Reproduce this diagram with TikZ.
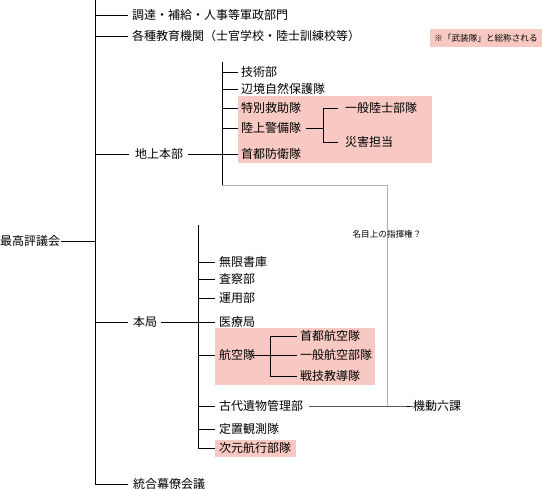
\documentclass[tikz,border=0pt]{standalone}
\usepackage{fontspec}
\setmainfont{Noto Sans CJK JP}
\definecolor{pinkbg}{RGB}{247,201,194}
\definecolor{grayln}{RGB}{175,175,175}
\begin{document}
\begin{tikzpicture}[x=1pt,y=-1pt,
  lbl/.style={anchor=west,inner sep=0pt,font=\fontsize{12}{12}\selectfont},
  small/.style={inner sep=0pt,font=\fontsize{8.6}{9}\selectfont},
  ln/.style={line width=0.9pt,black},
  gln/.style={line width=0.9pt,grayln}]
\useasboundingbox (0,0) rectangle (542,490);
% pink group backgrounds
\fill[pinkbg] (238,96) rectangle (432,163);
\fill[pinkbg] (215,328) rectangle (375,385);
\fill[pinkbg] (215,440) rectangle (296,457);
\node[small,fill=pinkbg,minimum width=112pt,minimum height=18pt] (note) at (486,38) {※「武装隊」と総称される};

% level 0 / 1
\node[lbl] (root) at (0,241) {最高評議会};
\node[lbl] (a1) at (132,15) {調達・補給・人事等軍政部門};
\node[lbl] (a2) at (132,36) {各種教育機関（士官学校・陸士訓練校等）};
\node[lbl] (chijo) at (135,154) {地上本部};
\node[lbl] (honkyoku) at (133,322) {本局};
\node[lbl] (togo) at (133,484) {統合幕僚会議};

% ground HQ nodes
\node[lbl] (gi) at (241,72) {技術部};
\node[lbl] (hen) at (241,89) {辺境自然保護隊};
\node[lbl] (toku) at (241,108) {特別救助隊};
\node[lbl] (riku) at (241,128) {陸上警備隊};
\node[lbl] (shuto) at (241,154) {首都防衛隊};
\node[lbl] (ippan) at (345,108) {一般陸士部隊};
\node[lbl] (saigai) at (345,142) {災害担当};

% main office nodes
\node[lbl] (mugen) at (219,262) {無限書庫};
\node[lbl] (sasatsu) at (219,279) {査察部};
\node[lbl] (unyo) at (219,298) {運用部};
\node[lbl] (iryo) at (219,322) {医療局};
\node[lbl] (koku) at (219,355) {航空隊};
\node[lbl] (kodai) at (219,406) {古代遺物管理部};
\node[lbl] (teichi) at (219,429) {定置観測隊};
\node[lbl] (jigen) at (219,448) {次元航行部隊};
\node[lbl] (shutoku) at (300,336) {首都航空隊};
\node[lbl] (ippanku) at (300,355) {一般航空部隊};
\node[lbl] (sengi) at (300,376) {戦技教導隊};
\node[lbl] (kido) at (413,406) {機動六課};

% nominal command (gray), drawn below the black lines
\coordinate (bus1t) at (222,62);
\coordinate (bus1b) at (222,185);
\coordinate (gcorner) at (387,185);
\draw[gln] (bus1b) -- (gcorner) -- (gcorner |- kido.west);
\node[small] (nominal) at (387,234) {名目上の指揮権？};

% level 0 bus
\coordinate (bus0) at (95,0);
\draw[ln] (bus0) -- (bus0 |- togo.west) -- ([xshift=-5pt]togo.west);
\draw[ln] ([xshift=1pt]root.east) -- (root.east -| bus0);
\draw[ln] (bus0 |- a1.west) -- ([xshift=-4pt]a1.west);
\draw[ln] (bus0 |- a2.west) -- ([xshift=-4pt]a2.west);
\draw[ln] (bus0 |- chijo.west) -- ([xshift=-6pt]chijo.west);
\draw[ln] (bus0 |- honkyoku.west) -- ([xshift=-5pt]honkyoku.west);

% ground HQ lines
\draw[ln] (bus1t) -- (bus1b);
\draw[ln] (bus1t |- gi.west) -- ([xshift=-3pt]gi.west);
\draw[ln] (bus1t |- hen.west) -- ([xshift=-3pt]hen.west);
\draw[ln] (bus1t |- toku.west) -- ([xshift=-3pt]toku.west);
\draw[ln] (bus1t |- riku.west) -- ([xshift=-3pt]riku.west);
\draw[ln] ([xshift=5pt]chijo.east) -- ([xshift=-3pt]shuto.west);

\coordinate (bus2) at (323,108);
\draw[ln] ([xshift=5pt]riku.east) -- (riku.east -| bus2);
\draw[ln] (bus2 |- ippan.west) -- (bus2 |- saigai.west);
\draw[ln] (bus2 |- ippan.west) -- ([xshift=-7pt]ippan.west);
\draw[ln] (bus2 |- saigai.west) -- ([xshift=-7pt]saigai.west);

% main office lines
\coordinate (bus3) at (198,225);
\draw[ln] (bus3) -- (bus3 |- jigen.west) -- ([xshift=-4pt]jigen.west);
\draw[ln] (bus3 |- mugen.west) -- ([xshift=-4pt]mugen.west);
\draw[ln] (bus3 |- sasatsu.west) -- ([xshift=-4pt]sasatsu.west);
\draw[ln] (bus3 |- unyo.west) -- ([xshift=-4pt]unyo.west);
\draw[ln] ([xshift=4pt]honkyoku.east) -- ([xshift=-4pt]iryo.west);
\draw[ln] (bus3 |- koku.west) -- ([xshift=-4pt]koku.west);
\draw[ln] (bus3 |- kodai.west) -- ([xshift=-4pt]kodai.west);
\draw[ln] (bus3 |- teichi.west) -- ([xshift=-4pt]teichi.west);

\coordinate (bus4) at (270,336);
\draw[ln] ([xshift=-3pt]koku.east) -- (koku.east -| bus4);
\draw[ln] (bus4 |- shutoku.west) -- (bus4 |- sengi.west);
\draw[ln] (bus4 |- shutoku.west) -- ([xshift=-3pt]shutoku.west);
\draw[ln] (bus4 |- ippanku.west) -- ([xshift=-3pt]ippanku.west);
\draw[ln] (bus4 |- sengi.west) -- ([xshift=-3pt]sengi.west);

\draw[ln] ([xshift=6pt]kodai.east) -- (kodai.east -| kido.west) -- ([xshift=-6pt]kido.west);
\end{tikzpicture}
\end{document}
